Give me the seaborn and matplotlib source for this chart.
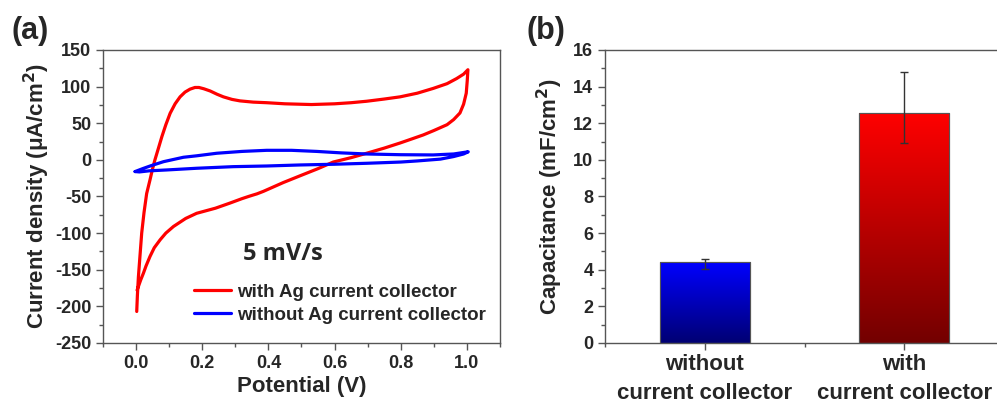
import numpy as np
import pandas as pd
import seaborn as sns
import matplotlib.pyplot as plt
from matplotlib.ticker import MultipleLocator

# CV loops (potential V, current density uA/cm2)
red_v = [0.002, 0.004, 0.007, 0.012, 0.017, 0.024, 0.032, 0.042, 0.050, 0.057, 0.067, 0.078,
         0.090, 0.103, 0.118, 0.133, 0.148, 0.163, 0.178, 0.190, 0.205, 0.224, 0.245, 0.264,
         0.290, 0.314, 0.354, 0.395, 0.450, 0.530, 0.600, 0.650, 0.697, 0.750, 0.798, 0.850,
         0.898, 0.940, 0.969, 0.990, 1.003,
         1.001, 0.998, 0.990, 0.979, 0.960, 0.940, 0.900, 0.868, 0.830, 0.798, 0.750, 0.697,
         0.650, 0.596, 0.550, 0.500, 0.445, 0.410, 0.385, 0.365, 0.354, 0.340, 0.320, 0.284,
         0.240, 0.183, 0.150, 0.113, 0.090, 0.073, 0.055, 0.042, 0.030, 0.022, 0.014, 0.007,
         0.003]
red_i = [-207, -185, -160, -130, -100, -72, -46, -27.5, -12, 0, 15, 31.7,
         48, 63.6, 76.5, 86, 92.5, 96.5, 98.8, 98.8, 97, 94, 89.5, 86,
         82.5, 80.5, 78.8, 78, 76.5, 75.5, 76.5, 78, 80, 83, 86, 91,
         97.5, 104, 111, 117, 123,
         108, 91, 76, 64, 55, 48, 40, 34, 28, 23, 16, 9,
         3, -3, -12, -21, -31, -38, -43, -46.5, -48, -50, -53, -59,
         -66, -73, -80, -91, -100, -109, -120, -132, -145, -155, -164, -173,
         -178]

blue_v = [-0.003, 0.020, 0.045, 0.083, 0.143, 0.183, 0.244, 0.320, 0.395, 0.470, 0.546,
          0.620, 0.697, 0.800, 0.898, 0.960, 1.004,
          0.990, 0.960, 0.920, 0.850, 0.800, 0.697, 0.600, 0.495, 0.395, 0.294, 0.183, 0.093,
          0.040, 0.010, -0.003]
blue_i = [-16, -12, -8, -2.5, 3.5, 5.5, 9, 11.5, 13, 13, 11.5,
          9.5, 8, 7, 6.7, 8, 11,
          8, 4.5, 1, -1.5, -3, -4.7, -6, -7, -8.4, -9.3, -11.5, -13.8,
          -15, -16.5, -16]

# capacitance bars
categories = ['without\ncurrent collector', 'with\ncurrent collector']
cap_values = [4.40, 12.58]
err_low = [0.38, 1.64]
err_high = [0.17, 2.24]

cv = pd.concat([
    pd.DataFrame({'V': red_v, 'I': red_i, 'sample': 'with Ag current collector'}),
    pd.DataFrame({'V': blue_v, 'I': blue_i, 'sample': 'without Ag current collector'}),
], ignore_index=True)
bars = pd.DataFrame({'cat': categories, 'cap': cap_values})

sns.set_style('ticks')
plt.rcParams['font.family'] = ['Liberation Sans', 'DejaVu Sans']
plt.rcParams['font.weight'] = 'bold'
plt.rcParams['mathtext.default'] = 'bf'
plt.rcParams['axes.unicode_minus'] = False
spine_col = '#555555'

fig = plt.figure(figsize=(9.97, 4.03), dpi=100)
ax1 = fig.add_axes([0.1033, 0.149, 0.3982, 0.727])
ax2 = fig.add_axes([0.607, 0.149, 0.400, 0.727])

# ---- (a) CV curves
sns.lineplot(data=cv, x='V', y='I', hue='sample', sort=False, estimator=None,
             palette={'with Ag current collector': '#ff0000',
                      'without Ag current collector': '#0000ff'},
             linewidth=2.3, ax=ax1)
ax1.set_xlim(-0.1, 1.1)
ax1.set_ylim(-250, 150)
ax1.xaxis.set_major_locator(MultipleLocator(0.2))
ax1.xaxis.set_minor_locator(MultipleLocator(0.1))
ax1.yaxis.set_major_locator(MultipleLocator(50))
ax1.yaxis.set_minor_locator(MultipleLocator(25))
ax1.set_xticks([0.0, 0.2, 0.4, 0.6, 0.8, 1.0])
ax1.set_xlabel('Potential (V)', fontsize=16, fontweight='bold', labelpad=3)
ax1.set_ylabel(r'Current density ($\mathregular{\mu}$A/cm$^\mathbf{2}$)',
               fontsize=16, fontweight='bold', labelpad=2)
ax1.text(0.445, -128, '5 mV/s', fontsize=17, family='Open Sans', fontweight='bold',
         ha='center', va='center')
ax1.legend(loc='upper left', bbox_to_anchor=(0.228, 0.203), frameon=False,
           prop={'weight': 'bold', 'size': 13.5}, handlelength=2.0, handletextpad=0.3,
           labelspacing=0.33, borderpad=0, borderaxespad=0)
fig.text(0.012, 0.885, '(a)', fontsize=22, fontweight='bold', ha='left', va='bottom')

# ---- (b) capacitance bars with gradient fill
sns.barplot(data=bars, x='cat', y='cap', width=0.45, color='white', ax=ax2,
            edgecolor='#555555', linewidth=0.8)
tops = [(0, 0, 1.0), (1.0, 0, 0)]
bots = [(0, 0, 0.45), (0.45, 0, 0)]
for patch, top, bot in zip(list(ax2.patches), tops, bots):
    x0, y0 = patch.get_x(), patch.get_y()
    w, h = patch.get_width(), patch.get_height()
    grad = np.linspace(0, 1, 256)[:, None, None]
    img = np.array(bot)[None, None, :] * (1 - grad) + np.array(top)[None, None, :] * grad
    im = ax2.imshow(img, extent=[x0, x0 + w, y0, y0 + h], origin='lower',
                    aspect='auto', zorder=patch.get_zorder() + 0.1)
    im.set_clip_path(patch)
    edge = plt.Rectangle((x0, y0), w, h, fill=False, edgecolor='#555555', linewidth=0.8,
                         zorder=patch.get_zorder() + 0.2)
    ax2.add_patch(edge)
ax2.errorbar(range(len(categories)), cap_values, yerr=[err_low, err_high], fmt='none',
             ecolor='#333333', elinewidth=1.0, capsize=3, capthick=1.0, zorder=5)
ax2.set_xlim(-0.5, 1.5)
ax2.set_ylim(0, 16)
ax2.yaxis.set_major_locator(MultipleLocator(2))
ax2.yaxis.set_minor_locator(MultipleLocator(1))
ax2.set_xticks([-0.5, 0.5, 1.5], minor=True)
ax2.set_xlabel('')
ax2.set_ylabel(r'Capacitance (mF/cm$^\mathbf{2}$)', fontsize=16, fontweight='bold',
               labelpad=6)
fig.text(0.528, 0.885, '(b)', fontsize=22, fontweight='bold', ha='left', va='bottom')

for ax in (ax1, ax2):
    for s in ax.spines.values():
        s.set_color(spine_col)
        s.set_linewidth(1.0)
    ax.tick_params(which='major', direction='out', length=5, width=1.0, color=spine_col,
                   labelsize=13)
    ax.tick_params(which='minor', direction='out', length=3, width=1.0, color=spine_col)
    for lab in ax.get_xticklabels() + ax.get_yticklabels():
        lab.set_fontweight('bold')
ax2.spines['right'].set_visible(False)
ax2.tick_params(axis='x', which='major', labelsize=16, pad=3)
for lab in ax2.get_xticklabels():
    lab.set_linespacing(1.5)

fig.savefig('out.png', dpi=100)
